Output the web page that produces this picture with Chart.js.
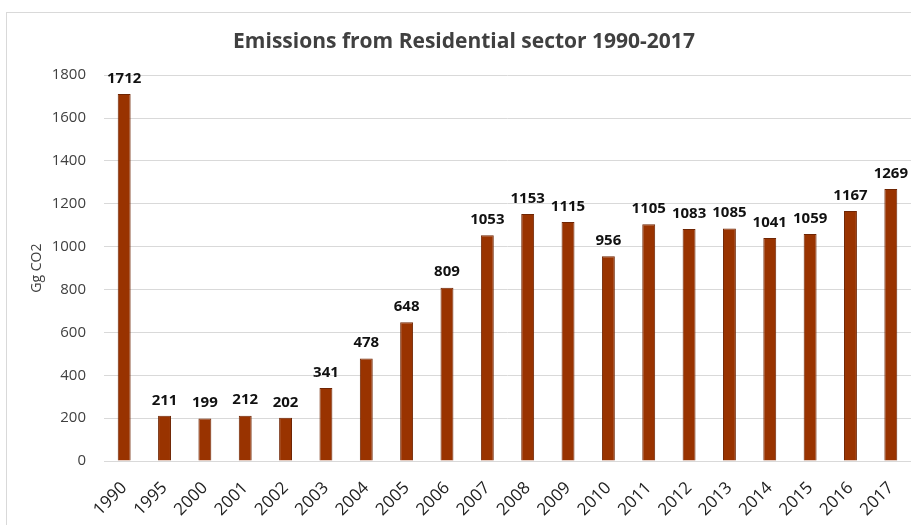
<!DOCTYPE html>
<html>
<head>
<meta charset="utf-8">
<script src="https://cdn.jsdelivr.net/npm/chart.js@4"></script>
<style>
  body { margin: 0; background: #fff; }
  #frame {
    position: absolute; left: 6px; top: 12px;
    width: 910px; height: 520px;
    border: 1px solid #d9d9d9; box-sizing: border-box;
  }
  #chart { display: block; }
</style>
</head>
<body>
<div id="frame"><canvas id="chart" width="908" height="518"></canvas></div>
<script>
// Residential sector emissions, Gg CO2
const years = ['1990', '1995', '2000', '2001', '2002', '2003', '2004', '2005', '2006', '2007',
               '2008', '2009', '2010', '2011', '2012', '2013', '2014', '2015', '2016', '2017'];
const emissions = [1712, 211, 199, 212, 202, 341, 478, 648, 809, 1053,
                   1153, 1115, 956, 1105, 1083, 1085, 1041, 1059, 1167, 1269];
const yTicks = [0, 200, 400, 600, 800, 1000, 1200, 1400, 1600, 1800];

const fontFamily = '"Open Sans", "Liberation Sans", sans-serif';

// Draw each bar's value just above it
const valueLabels = {
    id: 'valueLabels',
    afterDatasetsDraw(chart) {
        const ctx = chart.ctx;
        const meta = chart.getDatasetMeta(0);
        ctx.save();
        ctx.font = 'bold 15px ' + fontFamily;
        ctx.fillStyle = '#111';
        ctx.textAlign = 'center';
        ctx.textBaseline = 'bottom';
        meta.data.forEach((bar, i) => {
            ctx.fillText(emissions[i], bar.x, bar.y - 8);
        });
        ctx.restore();
    }
};

const ctx = document.getElementById('chart').getContext('2d');
new Chart(ctx, {
    type: 'bar',
    data: {
        labels: years,
        datasets: [{
            data: emissions,
            backgroundColor: '#993300',
            borderColor: '#6f2503',
            borderWidth: 1,
            barPercentage: 0.64,
            categoryPercentage: 0.5
        }]
    },
    options: {
        responsive: false,
        animation: false,
        layout: { padding: { left: 10, right: 4, top: 4, bottom: 2 } },
        plugins: {
            legend: { display: false },
            tooltip: { enabled: false },
            title: {
                display: true,
                text: 'Emissions from Residential sector 1990-2017',
                color: '#404040',
                font: { family: fontFamily, size: 21, weight: 'bold' },
                padding: { top: 12, bottom: 21 }
            }
        },
        scales: {
            x: {
                grid: { display: false },
                border: { color: '#d9d9d9' },
                ticks: {
                    color: '#222',
                    padding: 9,
                    font: { family: fontFamily, size: 17 },
                    minRotation: 45,
                    maxRotation: 45
                }
            },
            y: {
                min: 0,
                max: 1800,
                afterBuildTicks(axis) {
                    axis.ticks = yTicks.map(v => ({ value: v }));
                },
                // fixed axis width so the plot starts where the labels need it
                afterFit(scale) {
                    scale.width = 87;
                },
                grid: { color: '#d9d9d9', drawTicks: false },
                border: { display: false },
                ticks: {
                    color: '#404040',
                    padding: 18,
                    font: { family: fontFamily, size: 15 },
                    callback: v => String(v)
                },
                title: {
                    display: true,
                    text: 'Gg CO2',
                    color: '#404040',
                    font: { family: fontFamily, size: 14 },
                    padding: { top: 12, bottom: 4 }
                }
            }
        }
    },
    plugins: [valueLabels]
});
</script>
</body>
</html>
